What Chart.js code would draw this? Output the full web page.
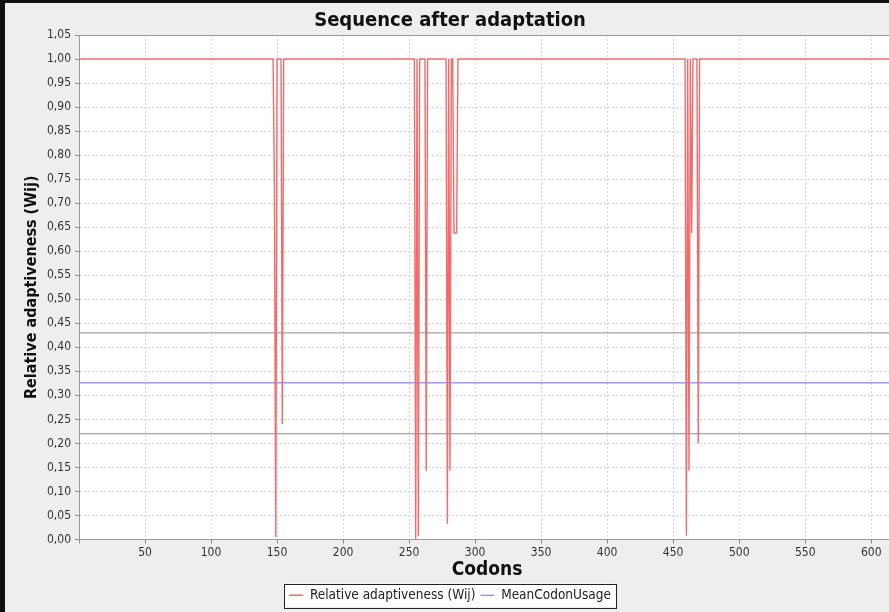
<!DOCTYPE html>
<html>
<head>
<meta charset="utf-8">
<script src="https://cdn.jsdelivr.net/npm/chart.js@4.4.0/dist/chart.umd.min.js"></script>
<style>
  html, body { margin: 0; padding: 0; overflow: hidden; background: #eeeeee; }
  #marco { position: absolute; left: 0; top: 0; width: 900px; height: 612px;
           border-left: 5px solid #111; border-top: 3px solid #111; box-sizing: border-box; }
  #grafico { position: absolute; left: 0; top: 0; }
</style>
</head>
<body>
<div id="marco"><canvas id="grafico" width="895" height="609"></canvas></div>
<script>
// codones donde cambia la serie (entre ellos el valor se mantiene)
const codones = [1, 147, 148, 149, 150, 153, 154, 155,
                 254, 255, 256, 257, 258, 262, 263, 264,
                 277, 278, 279, 280, 281, 282, 283, 284, 286, 287,
                 459, 460, 461, 462, 463, 464, 465, 468, 469, 470, 618];
const wij = [1, 1, 0.735, 0.005, 1, 1, 0.24, 1,
             1, 0.0, 1, 0.008, 1, 1, 0.143, 1,
             1, 1, 0.033, 1, 0.143, 1, 1, 0.638, 0.638, 1,
             1, 0.008, 1, 0.143, 1, 0.638, 1, 1, 0.2, 1, 1];

const extremosX = [0, 618];
const mediaUso = [0.326, 0.326];
const limiteSup = [0.43, 0.43];
const limiteInf = [0.22, 0.22];

const marcasX = [0, 50, 100, 150, 200, 250, 300, 350, 400, 450, 500, 550, 600];

const fuente = "'DejaVu Sans Condensed', 'DejaVu Sans', sans-serif";

function puntos(xs, ys) {
  return xs.map((x, i) => ({x: x, y: ys[i]}));
}

const fondo = {
  id: 'fondo',
  beforeDraw(chart) {
    const {ctx, chartArea: a} = chart;
    ctx.save();
    ctx.fillStyle = '#eeeeee';
    ctx.fillRect(0, 0, chart.width, chart.height);
    ctx.fillStyle = '#ffffff';
    ctx.fillRect(a.left, a.top, a.right - a.left, a.bottom - a.top);
    const cajas = chart.legend.legendHitBoxes;
    if (cajas && cajas.length) {
      const izq = Math.min(...cajas.map(c => c.left)) - 5;
      const der = Math.max(...cajas.map(c => c.left + c.width)) + 5;
      const arr = cajas[0].top - 5;
      const alto = cajas[0].height + 10;
      ctx.fillRect(izq, arr, der - izq, alto);
      ctx.strokeStyle = '#222';
      ctx.lineWidth = 1;
      ctx.strokeRect(Math.round(izq) + 0.5, Math.round(arr) + 0.5, Math.round(der - izq), Math.round(alto));
    }
    ctx.restore();
  },
  afterDatasetsDraw(chart) {
    const {ctx, chartArea: a} = chart;
    ctx.save();
    ctx.strokeStyle = '#999';
    ctx.lineWidth = 1;
    ctx.beginPath();
    ctx.moveTo(a.left + 0.5, a.bottom);
    ctx.lineTo(a.left + 0.5, a.top + 0.5);
    ctx.lineTo(a.right, a.top + 0.5);
    ctx.stroke();
    ctx.restore();
  }
};

new Chart(document.getElementById('grafico'), {
  type: 'scatter',
  data: {
    datasets: [
      {label: 'Relative adaptiveness (Wij)', data: puntos(codones, wij), showLine: true,
       borderColor: '#f06c6c', backgroundColor: '#f06c6c', borderWidth: 1.4, pointRadius: 0},
      {label: 'MeanCodonUsage', data: puntos(extremosX, mediaUso), showLine: true,
       borderColor: '#6a6ae6', backgroundColor: '#6a6ae6', borderWidth: 1, pointRadius: 0},
      {label: '', data: puntos(extremosX, limiteSup), showLine: true,
       borderColor: '#8c8c8c', borderWidth: 1, pointRadius: 0},
      {label: '', data: puntos(extremosX, limiteInf), showLine: true,
       borderColor: '#8c8c8c', borderWidth: 1, pointRadius: 0}
    ]
  },
  options: {
    responsive: false,
    animation: false,
    devicePixelRatio: 1,
    layout: {padding: {left: 0, right: 5, top: 0, bottom: 0}},
    plugins: {
      title: {
        display: true, text: 'Sequence after adaptation', color: '#111',
        font: {family: fuente, size: 20, weight: 'bold'}, padding: {top: 6, bottom: 2}
      },
      legend: {
        position: 'bottom',
        labels: {
          filter: item => item.text !== '',
          usePointStyle: true, pointStyle: 'line', pointStyleWidth: 14,
          boxHeight: 10, padding: 5, color: '#222',
          font: {family: fuente, size: 13.5}
        }
      },
      tooltip: {enabled: false}
    },
    scales: {
      x: {
        type: 'linear', min: 0, max: 618,
        grid: {color: '#dadada', tickColor: '#888', tickLength: 4},
        border: {color: '#999', dash: [2, 2]},
        afterBuildTicks(s) { s.ticks = marcasX.map(v => ({value: v})); },
        ticks: {
          autoSkip: false, maxRotation: 0, padding: 2,
          color: '#333', font: {family: fuente, size: 12},
          callback: v => v > 0 ? String(v) : ''
        },
        title: {display: true, text: 'Codons', color: '#111',
                font: {family: fuente, size: 19, weight: 'bold'}, padding: {top: 0, bottom: 2}},
        afterFit(s) { s.height = 44; }
      },
      y: {
        min: 0, max: 1.05,
        grid: {color: '#dadada', tickColor: '#888', tickLength: 4},
        border: {color: '#999', dash: [2, 2]},
        ticks: {
          stepSize: 0.05, maxTicksLimit: 40, autoSkip: false, padding: 4,
          color: '#333', font: {family: fuente, size: 12},
          callback: v => v.toFixed(2).replace('.', ',')
        },
        title: {display: true, text: 'Relative adaptiveness (Wij)', color: '#111',
                font: {family: fuente, size: 16, weight: 'bold'}, padding: {top: 17, bottom: 0}},
        afterFit(s) { s.width = 74; }
      }
    }
  },
  plugins: [fondo]
});
</script>
</body>
</html>
